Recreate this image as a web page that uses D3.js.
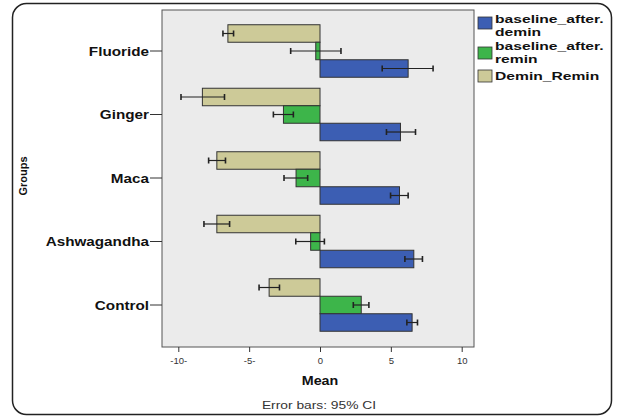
<!DOCTYPE html>
<html><head><meta charset="utf-8">
<script src="https://cdn.jsdelivr.net/npm/d3@7"></script>
<style>body{margin:0;background:#fff;} svg{display:block;font-family:Arial,"Liberation Sans",sans-serif;}</style>
</head><body>
<svg id="c" width="618" height="418"></svg>
<script>
const groups = ["Fluoride","Ginger","Maca","Ashwagandha","Control"];
const seriesNames = ["Demin_Remin","baseline_after.remin","baseline_after.demin"];
const legendLabels = [["baseline_after.","demin"],["baseline_after.","remin"],["Demin_Remin"]];
const legendOrder = ["baseline_after.demin","baseline_after.remin","Demin_Remin"];
const colors = ["#CDCA98","#3DB54A","#3C5EB3"];
// means per series, in group order
const demin_remin = [-6.5,-8.3,-7.28,-7.28,-3.59];
const after_remin = [-0.3,-2.58,-1.69,-0.66,2.91];
const after_demin = [6.22,5.68,5.61,6.62,6.5];
// 95% CI lower / upper
const demin_remin_lo = [-6.85,-9.81,-7.86,-8.19,-4.3];
const demin_remin_hi = [-6.1,-6.74,-6.67,-6.38,-2.86];
const after_remin_lo = [-2.07,-3.29,-2.54,-1.71,2.35];
const after_remin_hi = [1.48,-1.88,-0.87,0.31,3.45];
const after_demin_lo = [4.39,4.69,4.98,5.99,6.13];
const after_demin_hi = [7.98,6.74,6.22,7.23,6.88];
const xTicks = [-10,-5,0,5,10];
const xTickLabels = ["-10-","-5-","0","5","10"];

const vals = [demin_remin, after_remin, after_demin];
const los = [demin_remin_lo, after_remin_lo, after_demin_lo];
const his = [demin_remin_hi, after_remin_hi, after_demin_hi];

const svg = d3.select("#c");
// outer frame
svg.append("rect").attr("x",12.5).attr("y",3.5).attr("width",599).attr("height",411)
  .attr("rx",14).attr("fill","#fff").attr("stroke","#222").attr("stroke-width",1.5);

const plot = {l:162, t:10, r:474, b:347};
svg.append("rect").attr("x",plot.l).attr("y",plot.t).attr("width",plot.r-plot.l).attr("height",plot.b-plot.t)
  .attr("fill","#EBEBEB").attr("stroke","#555").attr("stroke-width",1);

const x = d3.scaleLinear().domain([-10,10]).range([178.3,461.7]);
const y = d3.scaleBand().domain(groups).range([19.25,336.75]).paddingInner(0.173).paddingOuter(0.0865);
const ys = d3.scaleBand().domain(seriesNames).range([0,y.bandwidth()]);

const data = [];
groups.forEach((g,i)=>seriesNames.forEach((s,j)=>data.push({g,s,j,v:vals[j][i],lo:los[j][i],hi:his[j][i]})));

const bars = svg.append("g");
bars.selectAll("rect").data(data).join("rect")
  .attr("x",d=>x(Math.min(0,d.v))).attr("width",d=>Math.abs(x(d.v)-x(0)))
  .attr("y",d=>y(d.g)+ys(d.s)).attr("height",ys.bandwidth())
  .attr("fill",d=>colors[d.j]).attr("stroke","#333").attr("stroke-width",1);

const eb = svg.append("g").attr("stroke","#222").attr("stroke-width",1.2);
data.forEach(d=>{
  const cy = y(d.g)+ys(d.s)+ys.bandwidth()/2;
  eb.append("line").attr("x1",x(d.lo)).attr("x2",x(d.hi)).attr("y1",cy).attr("y2",cy);
  [d.lo,d.hi].forEach(v=>eb.append("line").attr("x1",x(v)).attr("x2",x(v)).attr("y1",cy-3).attr("y2",cy+3).attr("stroke-width",1.6));
});

// stretched text helper (the reference is horizontally stretched)
function stext(g, xx, yy, txt, size, sx, opts={}){
  const t = g.append("text").attr("transform",`translate(${xx},${yy}) scale(${sx},1)`)
    .attr("font-size",size).attr("fill",opts.fill||"#111");
  if(Array.isArray(txt)){
    txt.forEach((line,k)=>t.append("tspan").attr("x",0).attr("y",k*(opts.lh||12)).text(line));
  } else t.text(txt);
  if(opts.bold) t.attr("font-weight","bold");
  if(opts.anchor) t.attr("text-anchor",opts.anchor);
  return t;
}

// x axis
const xa = svg.append("g").attr("transform",`translate(0,${plot.b})`)
  .call(d3.axisBottom(x).tickValues(xTicks).tickSize(5).tickSizeOuter(0).tickFormat((d,i)=>xTickLabels[i]));
xa.select(".domain").remove();
xa.selectAll("line").attr("stroke","#333");
xa.selectAll("text").attr("font-size",9.5).attr("fill","#333").attr("dy","0.9em");

// y axis
const ya = svg.append("g").attr("transform",`translate(${plot.l},0)`)
  .call(d3.axisLeft(y).tickSize(12).tickSizeOuter(0).tickFormat(""));
ya.select(".domain").remove();
ya.selectAll("line").attr("stroke","#333");
groups.forEach(g=>{
  stext(svg, plot.l-13, y(g)+y.bandwidth()/2+4.5, g, 12.5, 1.22, {bold:true, anchor:"end"});
});

stext(svg, 320, 385, "Mean", 13, 1.1, {bold:true, anchor:"middle"});
svg.append("text").attr("transform","translate(27,176) rotate(-90)").attr("text-anchor","middle")
  .attr("font-size",11).attr("font-weight","bold").attr("fill","#111").text("Groups");
stext(svg, 319, 409, "Error bars: 95% CI", 11.5, 1.2, {fill:"#333", anchor:"middle"});

// legend
const lg = svg.append("g");
const legendY = [17,47,70];
const legendBase = [23,50,80];
legendOrder.forEach((s,i)=>{
  const ci = seriesNames.indexOf(s);
  lg.append("rect").attr("x",478).attr("y",legendY[i]).attr("width",14).attr("height",12)
    .attr("fill",colors[ci]).attr("stroke","#333").attr("stroke-width",0.8);
  stext(lg, 495, legendBase[i], legendLabels[i], 11.5, 1.36, {bold:true, lh:13});
});
</script>
</body></html>
